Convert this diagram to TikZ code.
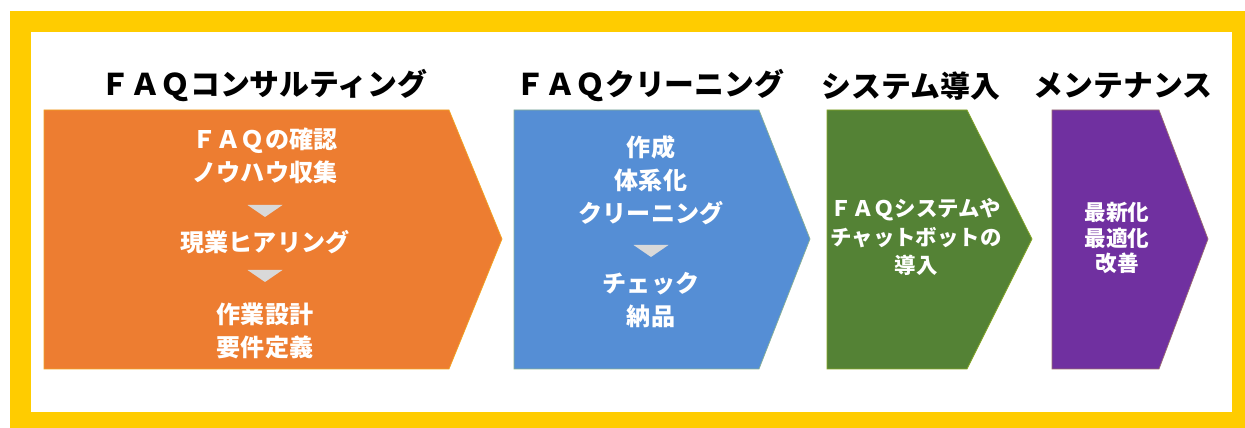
\documentclass[tikz,border=0pt]{standalone}
\usepackage{fontspec}
\setmainfont{Noto Sans CJK JP}
\usetikzlibrary{positioning}
\definecolor{frameyellow}{HTML}{FFCC00}
\definecolor{consultorange}{HTML}{ED7D31}
\definecolor{cleanblue}{HTML}{558ED5}
\definecolor{systemgreen}{HTML}{548235}
\definecolor{maintpurple}{HTML}{7030A0}
\definecolor{markgray}{HTML}{D9D9D9}
\tikzset{
  stagetitle/.style={font=\fontsize{17}{18}\selectfont\bfseries,text=black,inner sep=0pt},
  stagetext/.style={font=\fontsize{13.7}{18.8}\selectfont\bfseries,text=white,align=center,inner sep=0pt},
  smalltext/.style={font=\fontsize{12.2}{16.2}\selectfont\bfseries,text=white,align=center,inner sep=0pt},
}
% chevron: name, left, corner, tip, colour
\newcommand\stagearrow[5]{\fill[#5,draw=#5!70!yellow,line width=0.4pt] (#2,110) -- (#3,110) -- (#4,239) -- (#3,369) -- (#2,369) -- cycle;
  \coordinate (#1) at (#2,239);}
\newcommand\downmark[1]{\fill[markgray] (#1) ++(-17.5,-6) -- ++(35,0) -- ++(-17.5,12) -- cycle;}

\begin{document}
\begin{tikzpicture}[x=0.02cm,y=-0.02cm]
    \useasboundingbox (0,0) rectangle (1245,428);
    \fill[frameyellow] (10,11) rectangle (1245,428);
    \fill[white] (31,32) rectangle (1232,412);

    \stagearrow{s1}{44}{449}{502}{consultorange}
    \stagearrow{s2}{514}{759}{810}{cleanblue}
    \stagearrow{s3}{827}{967}{1032}{systemgreen}
    \stagearrow{s4}{1052}{1159}{1208}{maintpurple}

    \node(t1)[stagetitle] at (264,86) {ＦＡＱコンサルティング};
    \node(t2)[stagetitle] at (650,86) {ＦＡＱクリーニング};
    \node(t3)[stagetitle] at (911,86) {システム導入};
    \node(t4)[stagetitle] at (1123,86) {メンテナンス};

    % consulting
    \node(c1a)[stagetext] at (265,156) {ＦＡＱの確認\\ノウハウ収集};
    \coordinate(m1) at (265,211); \downmark{m1}
    \node(c1b)[stagetext] at (265,242) {現業ヒアリング};
    \coordinate(m2) at (265,276); \downmark{m2}
    \node(c1c)[stagetext] at (265,331) {作業設計\\要件定義};

    % cleaning
    \node(c2a)[stagetext] at (651,180) {作成\\体系化\\クリーニング};
    \coordinate(m3) at (651,251); \downmark{m3}
    \node(c2b)[stagetext] at (651,300) {チェック\\納品};

    % system, maintenance
    \node(c3)[smalltext] at (916,237) {ＦＡＱシステムや\\チャットボットの\\導入};
    \node(c4)[smalltext,font=\fontsize{12.3}{14.5}\selectfont\bfseries] at (1117,238) {最新化\\最適化\\改善};
\end{tikzpicture}
\end{document}
